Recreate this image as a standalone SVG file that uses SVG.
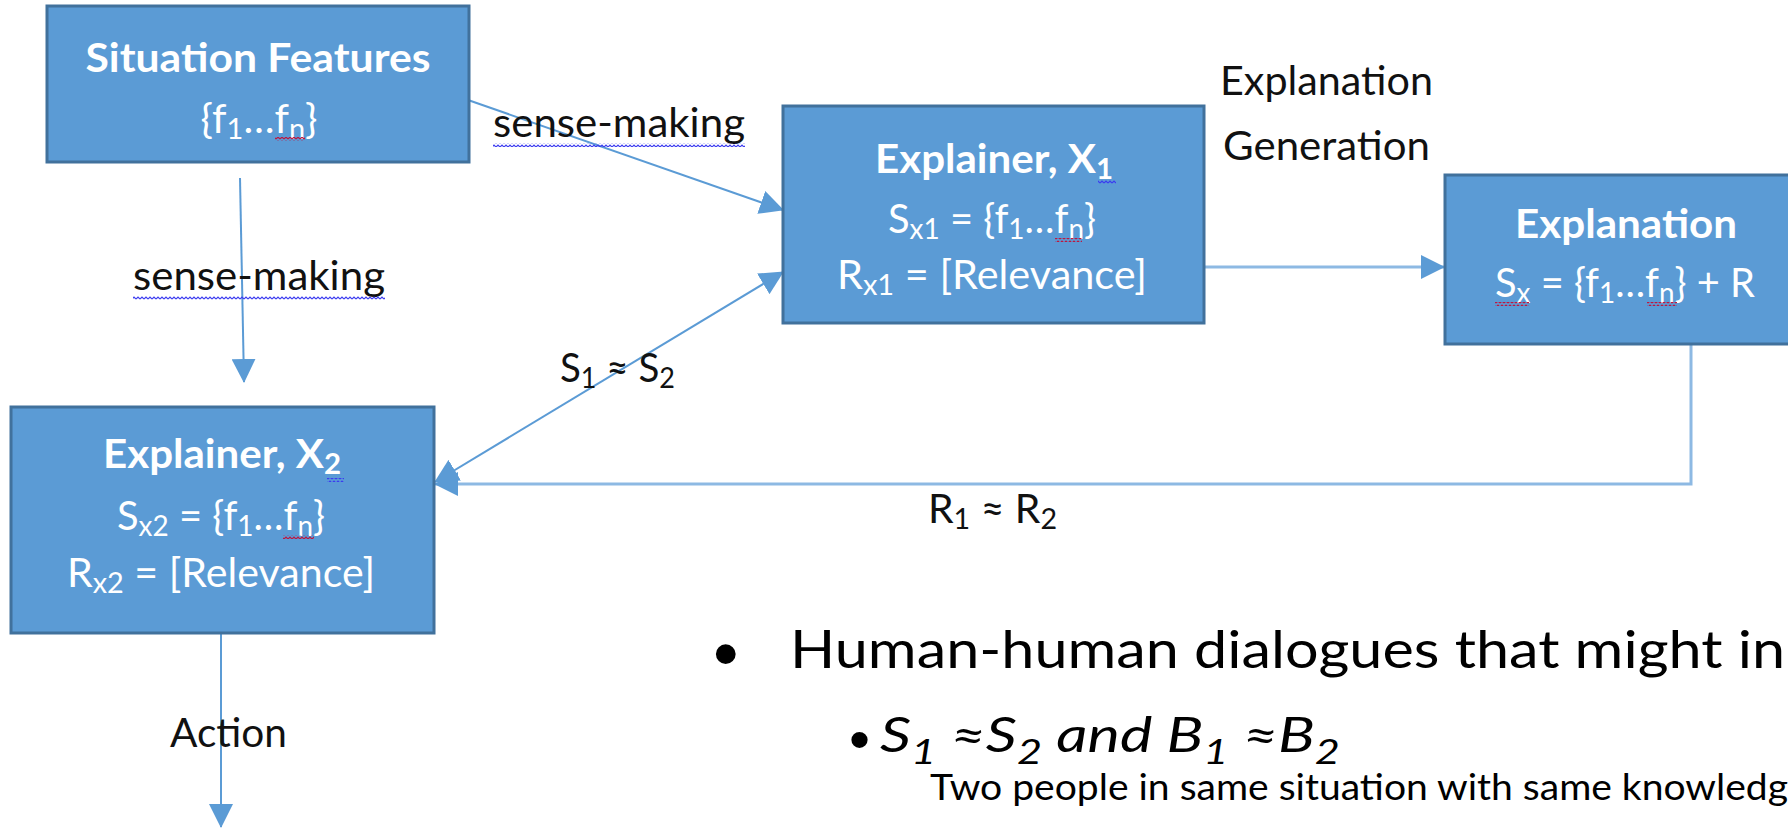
<svg xmlns="http://www.w3.org/2000/svg" width="1788" height="829" viewBox="0 0 1788 829">
<style>
.box{fill:#5B9BD5;stroke:#41719C;stroke-width:3}
.tb{font-family:Lato,"Liberation Sans",sans-serif;font-weight:bold;font-size:40px;fill:#fff}
.tw{font-family:Lato,"Liberation Sans",sans-serif;font-size:40px;fill:#fff}
.lb{font-family:Lato,"Liberation Sans",sans-serif;font-size:40px;fill:#111}
.big{font-family:Lato,"Liberation Sans",sans-serif;font-size:53px;fill:#000}
.it{font-family:Lato,"Liberation Sans",sans-serif;font-style:italic;font-size:48px;fill:#000}
.sm{font-family:Lato,"Liberation Sans",sans-serif;font-size:36px;fill:#000}
.bul{font-family:"Liberation Sans",Arial,sans-serif;fill:#000}
.sub{font-size:28px}
.sub2{font-size:34px;baseline-shift:-12px}
.c{fill:none;stroke:#5B9BD5;stroke-width:2}
.cl{fill:none;stroke:#8DB9E3;stroke-width:3}
</style>
<defs>
<marker id="ah" markerUnits="userSpaceOnUse" markerWidth="24" markerHeight="24" refX="23" refY="12" orient="auto-start-reverse" viewBox="0 0 24 24">
<path d="M0,0 L24,12 L0,24 z" fill="#5B9BD5"/>
</marker>
<pattern id="sqR" width="4" height="4" patternUnits="userSpaceOnUse"><path d="M0,3 L2,1 L4,3" fill="none" stroke="#C0143C" stroke-width="1.2"/></pattern>
<pattern id="sqB" width="4" height="4" patternUnits="userSpaceOnUse"><path d="M0,3 L2,1 L4,3" fill="none" stroke="#3A3AF0" stroke-width="1.2"/></pattern>
</defs>

<g id="connectors">
<path class="c" d="M468,100 L783,210" marker-end="url(#ah)"/>
<path class="c" d="M240,178 L244,382" marker-end="url(#ah)"/>
<path class="c" d="M783,272 L435,482" marker-start="url(#ah)" marker-end="url(#ah)"/>
<path class="cl" d="M1204,267 L1444,267" marker-end="url(#ah)"/>
<path class="cl" d="M1691,344 L1691,484 L435,484" marker-end="url(#ah)"/>
<path class="c" d="M221,633 L221,827" marker-end="url(#ah)"/>
</g>

<g id="situation-features">
<rect class="box" x="47" y="6" width="422" height="156"/>
<text class="tb" x="258" y="72" text-anchor="middle" textLength="345" lengthAdjust="spacingAndGlyphs">Situation Features</text>
<text class="tw" x="259" y="133" text-anchor="middle" textLength="117" lengthAdjust="spacingAndGlyphs">{f<tspan class="sub" dy="6">1</tspan><tspan dy="-6">…f</tspan><tspan class="sub" dy="6">n</tspan><tspan dy="-6">}</tspan></text>
<rect x="275" y="137" width="30" height="4" fill="url(#sqR)"/>
</g>

<g id="explainer-x1">
<rect class="box" x="783" y="106" width="421" height="217"/>
<text class="tb" x="994" y="173" text-anchor="middle" textLength="238" lengthAdjust="spacingAndGlyphs">Explainer, X<tspan class="sub" dy="6">1</tspan></text>
<rect x="1098" y="180" width="18" height="4" fill="url(#sqB)"/>
<text class="tw" x="992" y="233" text-anchor="middle" textLength="208" lengthAdjust="spacingAndGlyphs">S<tspan class="sub" dy="6">x1</tspan><tspan dy="-6"> = {f</tspan><tspan class="sub" dy="6">1</tspan><tspan dy="-6">…f</tspan><tspan class="sub" dy="6">n</tspan><tspan dy="-6">}</tspan></text>
<rect x="1055" y="238" width="27" height="4" fill="url(#sqR)"/>
<text class="tw" x="992" y="289" text-anchor="middle" textLength="310" lengthAdjust="spacingAndGlyphs">R<tspan class="sub" dy="6">x1</tspan><tspan dy="-6"> = [Relevance]</tspan></text>
</g>

<g id="explanation">
<rect class="box" x="1445" y="175" width="364" height="169"/>
<text class="tb" x="1626" y="238" text-anchor="middle" textLength="222" lengthAdjust="spacingAndGlyphs">Explanation</text>
<text class="tw" x="1625" y="297" text-anchor="middle" textLength="260" lengthAdjust="spacingAndGlyphs">S<tspan class="sub" dy="6">x</tspan><tspan dy="-6"> = {f</tspan><tspan class="sub" dy="6">1</tspan><tspan dy="-6">…f</tspan><tspan class="sub" dy="6">n</tspan><tspan dy="-6">} + R</tspan></text>
<rect x="1495" y="302" width="34" height="4" fill="url(#sqR)"/>
<rect x="1647" y="302" width="30" height="4" fill="url(#sqR)"/>
</g>

<g id="explainer-x2">
<rect class="box" x="11" y="407" width="423" height="226"/>
<text class="tb" x="222" y="468" text-anchor="middle" textLength="238" lengthAdjust="spacingAndGlyphs">Explainer, X<tspan class="sub" dy="6">2</tspan></text>
<rect x="327" y="478" width="17" height="4" fill="url(#sqB)"/>
<text class="tw" x="221" y="530" text-anchor="middle" textLength="208" lengthAdjust="spacingAndGlyphs">S<tspan class="sub" dy="6">x2</tspan><tspan dy="-6"> = {f</tspan><tspan class="sub" dy="6">1</tspan><tspan dy="-6">…f</tspan><tspan class="sub" dy="6">n</tspan><tspan dy="-6">}</tspan></text>
<rect x="283" y="535" width="31" height="4" fill="url(#sqR)"/>
<text class="tw" x="221" y="587" text-anchor="middle" textLength="308" lengthAdjust="spacingAndGlyphs">R<tspan class="sub" dy="6">x2</tspan><tspan dy="-6"> = [Relevance]</tspan></text>
</g>

<g id="labels">
<text class="lb" x="493" y="137" textLength="252" lengthAdjust="spacingAndGlyphs">sense-making</text>
<rect x="493" y="143" width="252" height="4" fill="url(#sqB)"/>
<text class="lb" x="133" y="290" textLength="252" lengthAdjust="spacingAndGlyphs">sense-making</text>
<rect x="133" y="296" width="252" height="4" fill="url(#sqB)"/>
<text class="lb" x="1220" y="95" textLength="213" lengthAdjust="spacingAndGlyphs">Explanation</text>
<text class="lb" x="1223" y="160" textLength="207" lengthAdjust="spacingAndGlyphs">Generation</text>
<text class="lb" x="560" y="382" textLength="115" lengthAdjust="spacingAndGlyphs">S<tspan class="sub" dy="6">1</tspan><tspan dy="-6"> ≈ S</tspan><tspan class="sub" dy="6">2</tspan></text>
<text class="lb" x="928" y="523" textLength="129" lengthAdjust="spacingAndGlyphs">R<tspan class="sub" dy="6">1</tspan><tspan dy="-6"> ≈ R</tspan><tspan class="sub" dy="6">2</tspan></text>
<text class="lb" x="170" y="747" textLength="117" lengthAdjust="spacingAndGlyphs">Action</text>
</g>

<g id="bullets">
<text class="bul" x="713" y="678" font-size="73">•</text>
<text class="big" x="790" y="668" textLength="995" lengthAdjust="spacingAndGlyphs">Human-human dialogues that might in</text>
<text class="bul" x="849" y="760" font-size="60">•</text>
<text class="it" x="880" y="752" textLength="460" lengthAdjust="spacingAndGlyphs">S<tspan class="sub2">1</tspan> ≈S<tspan class="sub2">2</tspan> and B<tspan class="sub2">1</tspan> ≈B<tspan class="sub2">2</tspan></text>
<text class="sm" x="930" y="800" textLength="858" lengthAdjust="spacingAndGlyphs">Two people in same situation with same knowledg</text>
</g>
</svg>
